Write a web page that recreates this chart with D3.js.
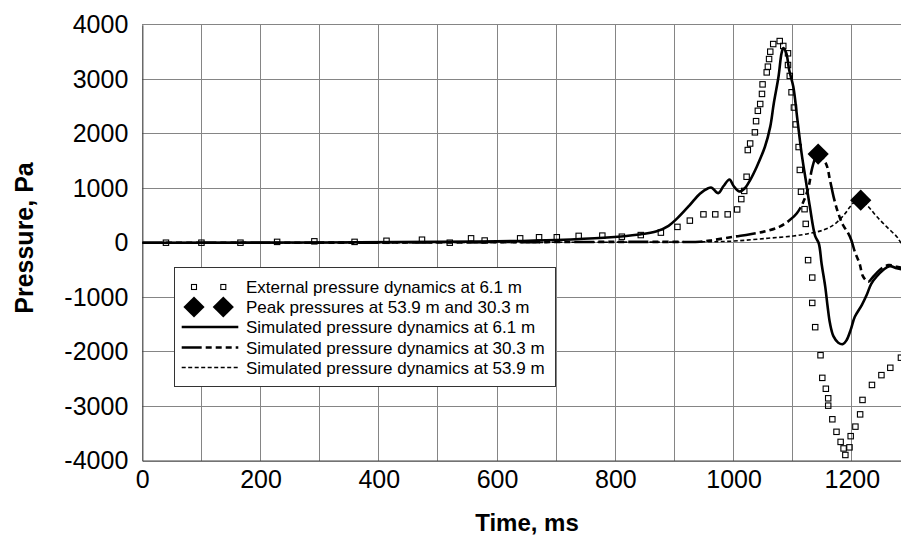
<!DOCTYPE html>
<html>
<head>
<meta charset="utf-8">
<script src="https://cdn.jsdelivr.net/npm/d3@7"></script>
<style>
  html, body { margin: 0; padding: 0; background: #fff; }
  svg { display: block; font-family: "Liberation Sans", Arial, sans-serif; }
</style>
</head>
<body>
<svg id="chart" width="901" height="538"></svg>
<script>
// Measured external pressure at 6.1 m (time ms, pressure Pa)
const extT = [40, 100, 166, 228, 291, 359, 413, 473, 520, 556, 579, 639, 671, 701, 738, 778, 811, 843, 877, 905, 926,
  949, 969, 990, 1006, 1013, 1018, 1022, 1024, 1028, 1036, 1038, 1041, 1045, 1048, 1049, 1056, 1058, 1060, 1062, 1067,
  1078, 1084, 1092, 1092, 1095, 1098, 1102, 1105, 1110, 1112, 1114, 1120, 1122, 1126, 1133, 1133, 1138, 1147, 1150,
  1156, 1160, 1160, 1167, 1174, 1181, 1186, 1189, 1196, 1198, 1206, 1214, 1218, 1234, 1250, 1265, 1283];
const extP = [0, 0, 0, 15, 25, 15, 35, 55, 0, 80, 40, 80, 100, 100, 125, 130, 110, 140, 185, 290, 405,
  520, 520, 520, 610, 800, 950, 1210, 1700, 1820, 2025, 2230, 2420, 2545, 2730, 2905, 3125, 3230, 3370, 3505, 3645,
  3700, 3610, 3475, 3260, 3060, 2760, 2480, 2170, 1755, 1335, 935, 615, 345, -320, -640, -1105, -1550, -2065, -2480,
  -2680, -2855, -2990, -3240, -3470, -3655, -3775, -3895, -3755, -3550, -3375, -3150, -2885, -2610, -2430, -2295, -2110];

// Peak pressures at 53.9 m and 30.3 m
const peakT = [1143, 1215];
const peakP = [1627, 780];

// Simulated pressure dynamics at 6.1 m
const sim61T = [0, 300, 500, 600, 700, 780, 840, 870, 890, 905, 925, 943, 957, 963, 974, 983, 993, 1000, 1010, 1019,
  1028, 1039, 1053, 1062, 1068, 1076, 1081, 1084, 1089, 1094, 1101, 1108, 1115, 1122, 1129, 1138, 1144, 1149, 1155,
  1159, 1163, 1169, 1177, 1185, 1191, 1198, 1205, 1217, 1225, 1233, 1242, 1253, 1264, 1276, 1290, 1300];
const sim61P = [0, 3, 15, 25, 50, 90, 150, 210, 310, 450, 680, 900, 1000, 1010, 910, 1040, 1160, 1040, 940, 1000,
  1150, 1390, 1760, 2130, 2560, 3050, 3470, 3570, 3480, 3170, 2860, 2250, 1640, 1150, 660, 120, -10, -400, -810,
  -1170, -1480, -1720, -1835, -1860, -1790, -1600, -1360, -1140, -960, -750, -620, -500, -430, -470, -500, -510];

// Simulated pressure dynamics at 30.3 m
const sim30T = [0, 200, 400, 600, 700, 800, 900, 943, 966, 1000, 1028, 1056, 1078, 1095, 1107, 1118, 1127, 1132, 1138,
  1143, 1156, 1163, 1169, 1177, 1185, 1194, 1199, 1205, 1213, 1219, 1228, 1236, 1247, 1262, 1276, 1290, 1300];
const sim30P = [0, 0, 2, 8, 12, 15, 15, 18, 50, 110, 155, 215, 295, 415, 540, 750, 1030, 1330, 1550,
  1627, 1457, 1150, 845, 540, 325, 170, 50, -165, -380, -620, -715, -625, -500, -410, -440, -470, -480];

// Simulated pressure dynamics at 53.9 m
const sim54T = [0, 300, 600, 800, 943, 1000, 1056, 1101, 1129, 1152, 1169, 1180, 1189, 1197, 1205, 1215, 1228, 1242,
  1259, 1276, 1283, 1300];
const sim54P = [0, 0, 5, 10, 15, 30, 80, 123, 172, 233, 325, 430, 540, 660, 750, 780, 660, 480, 290, 110, 0, -150];

const xTickValues = [0, 200, 400, 600, 800, 1000, 1200];
const yTickValues = [-4000, -3000, -2000, -1000, 0, 1000, 2000, 3000, 4000];

const legendLabels = [
  "External pressure dynamics at 6.1 m",
  "Peak pressures at 53.9 m and 30.3 m",
  "Simulated pressure dynamics at 6.1 m",
  "Simulated pressure dynamics at 30.3 m",
  "Simulated pressure dynamics at 53.9 m"
];

const svg = d3.select("#chart");
const plotLeft = 142.3, plotTop = 24.7, plotBottom = 460.7;
const pxPerMs = 0.5913;

const x = d3.scaleLinear().domain([0, 1400]).range([plotLeft, plotLeft + 1400 * pxPerMs]);
const y = d3.scaleLinear().domain([-4000, 4000]).range([plotBottom, plotTop]);

const zip = (ts, ps) => ts.map((t, i) => ({ t, p: ps[i] }));
const plainNumber = d => String(d);   // ASCII hyphen for negatives

svg.append("defs").append("clipPath").attr("id", "plotClip")
  .append("rect").attr("x", plotLeft).attr("y", plotTop - 2)
  .attr("width", x(1400) - plotLeft).attr("height", plotBottom - plotTop + 4);

// Grid
const grid = svg.append("g").attr("stroke", "#858585").attr("stroke-width", 1).attr("shape-rendering", "crispEdges");
grid.selectAll("line.v").data(d3.range(100, 1401, 100)).join("line")
  .attr("class", "v")
  .attr("x1", d => x(d)).attr("x2", d => x(d))
  .attr("y1", plotTop).attr("y2", plotBottom);
grid.selectAll("line.h").data(yTickValues.filter(v => v > -4000)).join("line")
  .attr("class", "h")
  .attr("x1", plotLeft).attr("x2", x(1400))
  .attr("y1", d => y(d)).attr("y2", d => y(d));

// Axes
const xAxis = d3.axisBottom(x).tickValues(xTickValues).tickSize(0).tickPadding(10).tickFormat(plainNumber);
const yAxis = d3.axisLeft(y).tickValues(yTickValues).tickSize(0).tickPadding(14).tickFormat(plainNumber);

const gx = svg.append("g").attr("transform", `translate(0,${plotBottom})`).call(xAxis);
gx.select(".domain").attr("stroke", "#444").attr("stroke-width", 1.2);
gx.selectAll("text").attr("font-size", 25).attr("fill", "#000")
  .attr("font-family", "'Liberation Sans', Arial, sans-serif");

const gy = svg.append("g").attr("transform", `translate(${plotLeft},0)`).call(yAxis);
gy.select(".domain").attr("stroke", "#444").attr("stroke-width", 1.2);
gy.selectAll("text").attr("font-size", 25).attr("fill", "#000")
  .attr("font-family", "'Liberation Sans', Arial, sans-serif");

// Axis titles
svg.append("text")
  .attr("x", 527).attr("y", 531)
  .attr("text-anchor", "middle")
  .attr("font-size", 24).attr("font-weight", "bold")
  .text("Time, ms");

svg.append("text")
  .attr("transform", "translate(33,238) rotate(-90)")
  .attr("text-anchor", "middle")
  .attr("font-size", 25).attr("font-weight", "bold")
  .text("Pressure, Pa");

// Series
const plot = svg.append("g").attr("clip-path", "url(#plotClip)");
const line = d3.line().x(d => x(d.t)).y(d => y(d.p)).curve(d3.curveCatmullRom.alpha(0.5));

const dash30 = "20,4,6,4,6,4,6,4";
const dash54 = "4,2.5";

plot.append("path").datum(zip(sim54T, sim54P))
  .attr("fill", "none").attr("stroke", "#000").attr("stroke-width", 1.6)
  .attr("stroke-dasharray", dash54).attr("d", line);

plot.append("path").datum(zip(sim30T, sim30P))
  .attr("fill", "none").attr("stroke", "#000").attr("stroke-width", 2.6)
  .attr("stroke-dasharray", dash30).attr("d", line);

plot.append("path").datum(zip(sim61T, sim61P))
  .attr("fill", "none").attr("stroke", "#000").attr("stroke-width", 2.6)
  .attr("d", line);

plot.selectAll("rect.ext").data(zip(extT, extP)).join("rect")
  .attr("class", "ext")
  .attr("x", d => x(d.t) - 2.7).attr("y", d => y(d.p) - 2.7)
  .attr("width", 5.4).attr("height", 5.4)
  .attr("fill", "none").attr("stroke", "#000").attr("stroke-width", 1.1);

const diamond = d3.symbol(d3.symbolSquare, 225);
plot.selectAll("path.peak").data(zip(peakT, peakP)).join("path")
  .attr("class", "peak")
  .attr("d", diamond)
  .attr("transform", d => `translate(${x(d.t)},${y(d.p)}) rotate(45)`)
  .attr("fill", "#000");

// Legend
const lg = svg.append("g");
lg.append("rect")
  .attr("x", 174.5).attr("y", 267.5).attr("width", 381).attr("height", 119)
  .attr("fill", "#fff").attr("stroke", "#333").attr("stroke-width", 1);

const rowY = [287, 307, 327, 347.5, 367.5];
const symL = 181.7, symR = 238.3;

lg.selectAll("rect.lsq").data([194, 223.3]).join("rect")
  .attr("class", "lsq")
  .attr("x", d => d - 2.5).attr("y", rowY[0] - 2.5).attr("width", 5).attr("height", 5)
  .attr("fill", "none").attr("stroke", "#000").attr("stroke-width", 1.1);

lg.selectAll("path.ldia").data([194, 223.3]).join("path")
  .attr("class", "ldia")
  .attr("d", diamond)
  .attr("transform", d => `translate(${d},${rowY[1]}) rotate(45)`)
  .attr("fill", "#000");

lg.append("line").attr("x1", symL).attr("x2", symR).attr("y1", rowY[2]).attr("y2", rowY[2])
  .attr("stroke", "#000").attr("stroke-width", 2.6);
lg.append("line").attr("x1", symL).attr("x2", symR).attr("y1", rowY[3]).attr("y2", rowY[3])
  .attr("stroke", "#000").attr("stroke-width", 2.6).attr("stroke-dasharray", dash30);
lg.append("line").attr("x1", symL).attr("x2", symR).attr("y1", rowY[4]).attr("y2", rowY[4])
  .attr("stroke", "#000").attr("stroke-width", 1.4).attr("stroke-dasharray", dash54);

lg.selectAll("text.ltx").data(legendLabels).join("text")
  .attr("class", "ltx")
  .attr("x", 246).attr("y", (d, i) => rowY[i] + 6)
  .attr("font-size", 17).attr("fill", "#000")
  .text(d => d);
</script>
</body>
</html>
